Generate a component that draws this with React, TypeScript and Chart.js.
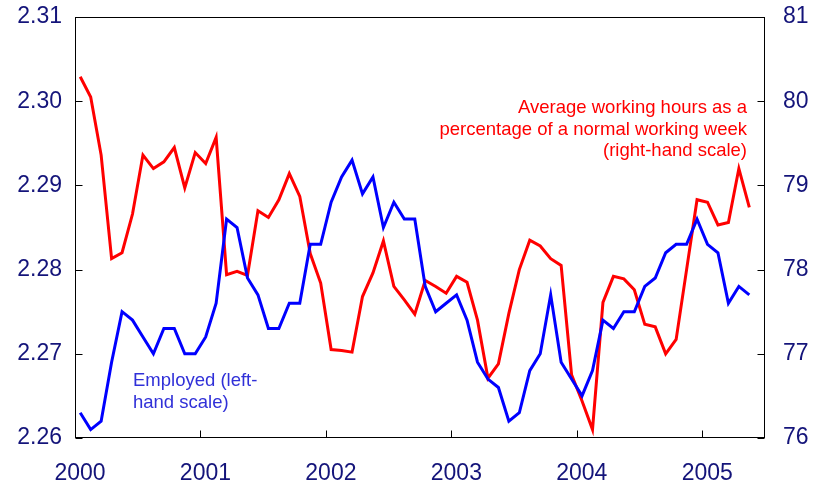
import React, { useEffect, useRef } from 'react';
import { Chart, registerables } from 'chart.js';

Chart.register(...registerables);

// Monthly observations, January 2000 to May 2005
const startYear = 2000;
const yearLabels = [2000, 2001, 2002, 2003, 2004, 2005];

// Employed, millions (left-hand scale)
const employed = [
  2.263, 2.261, 2.262, 2.269, 2.275, 2.274, 2.272, 2.270, 2.273, 2.273, 2.270, 2.270,
  2.272, 2.276, 2.286, 2.285, 2.279, 2.277, 2.273, 2.273, 2.276, 2.276, 2.283, 2.283,
  2.288, 2.291, 2.293, 2.289, 2.291, 2.285, 2.288, 2.286, 2.286, 2.278, 2.275, 2.276,
  2.277, 2.274, 2.269, 2.267, 2.266, 2.262, 2.263, 2.268, 2.270, 2.277, 2.269, 2.267,
  2.265, 2.268, 2.274, 2.273, 2.275, 2.275, 2.278, 2.279, 2.282, 2.283, 2.283, 2.286,
  2.283, 2.282, 2.276, 2.278, 2.277,
];

// Average working hours as % of a normal working week (right-hand scale)
const hours = [
  80.29, 80.05, 79.36, 78.13, 78.2, 78.66, 79.36, 79.2, 79.28, 79.45, 78.97, 79.39,
  79.26, 79.57, 77.94, 77.98, 77.93, 78.7, 78.62, 78.83, 79.14, 78.87, 78.19, 77.84,
  77.05, 77.04, 77.02, 77.68, 77.96, 78.34, 77.8, 77.64, 77.47, 77.87, 77.8, 77.72,
  77.92, 77.85, 77.4, 76.71, 76.88, 77.48, 78.0, 78.35, 78.28, 78.13, 78.05, 76.75,
  76.44, 76.1, 77.61, 77.92, 77.89, 77.76, 77.35, 77.32, 77.0, 77.17, 78.0, 78.83,
  78.8, 78.53, 78.56, 79.2, 78.74,
];

const leftTicks = [2.26, 2.27, 2.28, 2.29, 2.3, 2.31];
const rightTicks = [76, 77, 78, 79, 80, 81];

const hoursLabel = [
  'Average working hours as a',
  'percentage of a normal working week',
  '(right-hand scale)',
];
const employedLabel = ['Employed (left-', 'hand scale)'];

const FONT = '"Liberation Sans", Arial, sans-serif';
const NAVY = '#14147a';

const framePlugin = {
  id: 'frameAndNotes',
  afterDraw(chart: any) {
    const { ctx, chartArea: a, scales } = chart;
    ctx.save();
    ctx.strokeStyle = '#000';
    ctx.lineWidth = 1;
    const L = Math.round(a.left) + 0.5;
    const R = Math.round(a.right) - 0.5;
    const T = Math.round(a.top) + 0.5;
    const B = Math.round(a.bottom) - 0.5;
    ctx.strokeRect(L, T, R - L, B - T);
    ctx.beginPath();
    leftTicks.forEach((v) => {
      const p = Math.round(scales.y.getPixelForValue(v)) + 0.5;
      ctx.moveTo(L, p);
      ctx.lineTo(L + 7, p);
    });
    rightTicks.forEach((v) => {
      const p = Math.round(scales.y2.getPixelForValue(v)) + 0.5;
      ctx.moveTo(R, p);
      ctx.lineTo(R - 7, p);
    });
    yearLabels.forEach((yr) => {
      const p = Math.round(scales.x.getPixelForValue((yr - startYear) * 12)) + 0.5;
      ctx.moveTo(p, B);
      ctx.lineTo(p, B - 7);
    });
    ctx.stroke();

    ctx.font = `18.5px ${FONT}`;
    ctx.textBaseline = 'alphabetic';
    ctx.fillStyle = '#ff0000';
    ctx.textAlign = 'right';
    hoursLabel.forEach((s, i) => ctx.fillText(s, 747, 113 + i * 21.5));
    ctx.fillStyle = '#3030d8';
    ctx.textAlign = 'left';
    employedLabel.forEach((s, i) => ctx.fillText(s, 133, 386 + i * 21.5));
    ctx.restore();
  },
};

export default function App() {
  const ref = useRef<HTMLCanvasElement | null>(null);

  useEffect(() => {
    document.body.style.margin = '0';
    const canvas = ref.current;
    if (!canvas) return;
    const zeroPad = (s: any) => {
      s.paddingTop = 0;
      s.paddingBottom = 0;
      s.paddingLeft = 0;
      s.paddingRight = 0;
    };
    const chart = new Chart(canvas, {
      type: 'line',
      data: {
        datasets: [
          {
            label: 'Employed',
            data: employed.map((v, i) => ({ x: i + 0.5, y: v })),
            borderColor: '#0000ff',
            borderWidth: 3,
            pointRadius: 0,
            tension: 0,
            yAxisID: 'y',
          },
          {
            label: 'Hours',
            data: hours.map((v, i) => ({ x: i + 0.5, y: v })),
            borderColor: '#ff0000',
            borderWidth: 3,
            pointRadius: 0,
            tension: 0,
            yAxisID: 'y2',
          },
        ],
      },
      options: {
        responsive: false,
        animation: false,
        devicePixelRatio: 1,
        layout: { padding: { top: 17, left: 0, right: 0, bottom: 0 } },
        plugins: { legend: { display: false }, tooltip: { enabled: false }, title: { display: false } },
        scales: {
          x: {
            type: 'linear',
            min: 0,
            max: 66,
            grid: { display: false, drawTicks: false },
            border: { display: false },
            afterBuildTicks: (s: any) => {
              s.ticks = yearLabels.map((yr) => ({ value: (yr - startYear) * 12 }));
            },
            afterFit: (s: any) => {
              s.height = 51;
              zeroPad(s);
            },
            ticks: {
              callback: (v: any) => String(startYear + Math.round(Number(v) / 12)),
              font: { family: FONT, size: 23 },
              color: NAVY,
              padding: 22,
              labelOffset: 5,
              maxRotation: 0,
              autoSkip: false,
            },
          },
          y: {
            type: 'linear',
            position: 'left',
            min: 2.26,
            max: 2.31,
            grid: { display: false, drawTicks: false },
            border: { display: false },
            afterBuildTicks: (s: any) => {
              s.ticks = leftTicks.map((v) => ({ value: v }));
            },
            afterFit: (s: any) => {
              s.width = 75;
              zeroPad(s);
            },
            ticks: {
              callback: (v: any) => Number(v).toFixed(2),
              font: { family: FONT, size: 23 },
              color: NAVY,
              padding: 13,
            },
          },
          y2: {
            type: 'linear',
            position: 'right',
            min: 76,
            max: 81,
            grid: { display: false, drawTicks: false },
            border: { display: false },
            afterBuildTicks: (s: any) => {
              s.ticks = rightTicks.map((v) => ({ value: v }));
            },
            afterFit: (s: any) => {
              s.width = 49;
              zeroPad(s);
            },
            ticks: {
              callback: (v: any) => String(Math.round(Number(v))),
              font: { family: FONT, size: 23 },
              color: NAVY,
              padding: 18,
            },
          },
        },
      },
      plugins: [framePlugin],
    });
    return () => chart.destroy();
  }, []);

  return (
    <div style={{ position: 'absolute', left: 0, top: 0, width: 814, height: 489 }}>
      <canvas ref={ref} width={814} height={489} style={{ display: 'block', width: 814, height: 489 }} />
    </div>
  );
}
